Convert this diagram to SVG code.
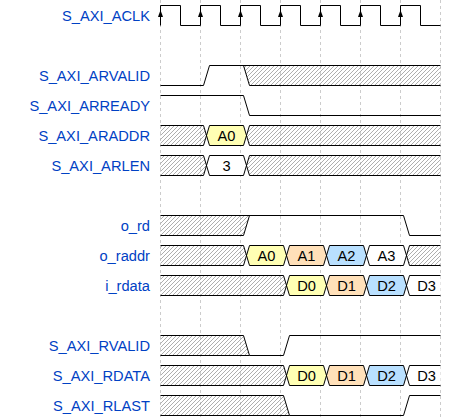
<svg xmlns="http://www.w3.org/2000/svg" width="460" height="420" viewBox="0 0 460 420">
<defs>
<pattern id="hatch" patternUnits="userSpaceOnUse" width="4" height="4">
<path d="M-1,1 L1,-1 M0,4 L4,0 M3,5 L5,3" stroke="#777" stroke-width="0.6"/>
</pattern>
<path id="arw" d="M0,10 L2.5,17 L-2.5,17 Z" fill="#000"/>
</defs>
<style>
.lbl{font-family:"Liberation Sans",Arial,sans-serif;font-size:14.67px;fill:#0041c4;text-anchor:end}
.dat{font-family:"Liberation Sans",Arial,sans-serif;font-size:14.67px;fill:#000;text-anchor:middle}
.w{fill:none;stroke:#000;stroke-width:1}
.x{fill:url(#hatch);stroke:none}
.s2{fill:#fff;stroke:none}
.s3{fill:#ffffb4;stroke:none}
.s4{fill:#ffe0b9;stroke:none}
.s5{fill:#b9e0ff;stroke:none}
.grid{stroke:#ccc;stroke-width:1;stroke-dasharray:3,3}
</style>
<rect width="460" height="420" fill="#fff"/>
<g id="grid">
<line class="grid" x1="160.5" y1="0" x2="160.5" y2="420"/>
<line class="grid" x1="200.5" y1="0" x2="200.5" y2="420"/>
<line class="grid" x1="240.5" y1="0" x2="240.5" y2="420"/>
<line class="grid" x1="280.5" y1="0" x2="280.5" y2="420"/>
<line class="grid" x1="320.5" y1="0" x2="320.5" y2="420"/>
<line class="grid" x1="360.5" y1="0" x2="360.5" y2="420"/>
<line class="grid" x1="400.5" y1="0" x2="400.5" y2="420"/>
<line class="grid" x1="440.5" y1="0" x2="440.5" y2="420"/>
</g>
<g id="S_AXI_ACLK">
<text class="lbl" x="150" y="21">S_AXI_ACLK</text>
<path class="w" d="M160.5,25.5 V5.5 H180.5 V25.5 H200.5 V5.5 H220.5 V25.5 H240.5 V5.5 H260.5 V25.5 H280.5 V5.5 H300.5 V25.5 H320.5 V5.5 H340.5 V25.5 H360.5 V5.5 H380.5 V25.5 H400.5 V5.5 H420.5 V25.5 H440.5"/>
<use href="#arw" x="160.5"/><use href="#arw" x="200.5"/><use href="#arw" x="240.5"/><use href="#arw" x="280.5"/><use href="#arw" x="320.5"/><use href="#arw" x="360.5"/><use href="#arw" x="400.5"/>
</g>
<g id="S_AXI_ARVALID">
<text class="lbl" x="150" y="81">S_AXI_ARVALID</text>
<polygon class="x" points="243.5,65.5 440.5,65.5 440.5,85.5 249.5,85.5"/>
<path class="w" d="M160.5,85.5 H203.5 L209.5,65.5 H440.5 M243.5,65.5 L249.5,85.5 H440.5"/>
</g>
<g id="S_AXI_ARREADY">
<text class="lbl" x="150" y="111">S_AXI_ARREADY</text>
<path class="w" d="M160.5,95.5 H243.5 L249.5,115.5 H440.5"/>
</g>
<g id="S_AXI_ARADDR">
<text class="lbl" x="150" y="141">S_AXI_ARADDR</text>
<polygon class="x" points="160.5,125.5 203.5,125.5 206.5,135.5 203.5,145.5 160.5,145.5"/>
<polygon class="s3" points="206.5,135.5 209.5,125.5 243.5,125.5 246.5,135.5 243.5,145.5 209.5,145.5"/>
<polygon class="x" points="246.5,135.5 249.5,125.5 440.5,125.5 440.5,145.5 249.5,145.5"/>
<path class="w" d="M160.5,125.5 H203.5 L209.5,145.5 H243.5 L249.5,125.5 H440.5 M160.5,145.5 H203.5 L209.5,125.5 H243.5 L249.5,145.5 H440.5"/>
<text class="dat" x="226.5" y="141">A0</text>
</g>
<g id="S_AXI_ARLEN">
<text class="lbl" x="150" y="171">S_AXI_ARLEN</text>
<polygon class="x" points="160.5,155.5 203.5,155.5 206.5,165.5 203.5,175.5 160.5,175.5"/>
<polygon class="s2" points="206.5,165.5 209.5,155.5 243.5,155.5 246.5,165.5 243.5,175.5 209.5,175.5"/>
<polygon class="x" points="246.5,165.5 249.5,155.5 440.5,155.5 440.5,175.5 249.5,175.5"/>
<path class="w" d="M160.5,155.5 H203.5 L209.5,175.5 H243.5 L249.5,155.5 H440.5 M160.5,175.5 H203.5 L209.5,155.5 H243.5 L249.5,175.5 H440.5"/>
<text class="dat" x="226.5" y="171">3</text>
</g>
<g id="o_rd">
<text class="lbl" x="150" y="231">o_rd</text>
<polygon class="x" points="160.5,215.5 249.5,215.5 243.5,235.5 160.5,235.5"/>
<path class="w" d="M160.5,215.5 H403.5 L409.5,235.5 H440.5 M160.5,235.5 H243.5 L249.5,215.5"/>
</g>
<g id="o_raddr">
<text class="lbl" x="150" y="261">o_raddr</text>
<polygon class="x" points="160.5,245.5 243.5,245.5 246.5,255.5 243.5,265.5 160.5,265.5"/>
<polygon class="s3" points="246.5,255.5 249.5,245.5 283.5,245.5 286.5,255.5 283.5,265.5 249.5,265.5"/>
<polygon class="s4" points="286.5,255.5 289.5,245.5 323.5,245.5 326.5,255.5 323.5,265.5 289.5,265.5"/>
<polygon class="s5" points="326.5,255.5 329.5,245.5 363.5,245.5 366.5,255.5 363.5,265.5 329.5,265.5"/>
<polygon class="s2" points="366.5,255.5 369.5,245.5 403.5,245.5 406.5,255.5 403.5,265.5 369.5,265.5"/>
<polygon class="x" points="406.5,255.5 409.5,245.5 440.5,245.5 440.5,265.5 409.5,265.5"/>
<path class="w" d="M160.5,245.5 H243.5 L249.5,265.5 H283.5 L289.5,245.5 H323.5 L329.5,265.5 H363.5 L369.5,245.5 H403.5 L409.5,265.5 H440.5 M160.5,265.5 H243.5 L249.5,245.5 H283.5 L289.5,265.5 H323.5 L329.5,245.5 H363.5 L369.5,265.5 H403.5 L409.5,245.5 H440.5"/>
<text class="dat" x="266.5" y="261">A0</text>
<text class="dat" x="306.5" y="261">A1</text>
<text class="dat" x="346.5" y="261">A2</text>
<text class="dat" x="386.5" y="261">A3</text>
</g>
<g id="i_rdata">
<text class="lbl" x="150" y="291">i_rdata</text>
<polygon class="x" points="160.5,275.5 283.5,275.5 286.5,285.5 283.5,295.5 160.5,295.5"/>
<polygon class="s3" points="286.5,285.5 289.5,275.5 323.5,275.5 326.5,285.5 323.5,295.5 289.5,295.5"/>
<polygon class="s4" points="326.5,285.5 329.5,275.5 363.5,275.5 366.5,285.5 363.5,295.5 329.5,295.5"/>
<polygon class="s5" points="366.5,285.5 369.5,275.5 403.5,275.5 406.5,285.5 403.5,295.5 369.5,295.5"/>
<polygon class="s2" points="406.5,285.5 409.5,275.5 440.5,275.5 440.5,295.5 409.5,295.5"/>
<path class="w" d="M160.5,275.5 H283.5 L289.5,295.5 H323.5 L329.5,275.5 H363.5 L369.5,295.5 H403.5 L409.5,275.5 H440.5 M160.5,295.5 H283.5 L289.5,275.5 H323.5 L329.5,295.5 H363.5 L369.5,275.5 H403.5 L409.5,295.5 H440.5"/>
<text class="dat" x="306.5" y="291">D0</text>
<text class="dat" x="346.5" y="291">D1</text>
<text class="dat" x="386.5" y="291">D2</text>
<text class="dat" x="426.5" y="291">D3</text>
</g>
<g id="S_AXI_RVALID">
<text class="lbl" x="150" y="351">S_AXI_RVALID</text>
<polygon class="x" points="160.5,335.5 243.5,335.5 249.5,355.5 160.5,355.5"/>
<path class="w" d="M160.5,335.5 H243.5 L249.5,355.5 H283.5 L289.5,335.5 H440.5 M160.5,355.5 H249.5"/>
</g>
<g id="S_AXI_RDATA">
<text class="lbl" x="150" y="381">S_AXI_RDATA</text>
<polygon class="x" points="160.5,365.5 283.5,365.5 286.5,375.5 283.5,385.5 160.5,385.5"/>
<polygon class="s3" points="286.5,375.5 289.5,365.5 323.5,365.5 326.5,375.5 323.5,385.5 289.5,385.5"/>
<polygon class="s4" points="326.5,375.5 329.5,365.5 363.5,365.5 366.5,375.5 363.5,385.5 329.5,385.5"/>
<polygon class="s5" points="366.5,375.5 369.5,365.5 403.5,365.5 406.5,375.5 403.5,385.5 369.5,385.5"/>
<polygon class="s2" points="406.5,375.5 409.5,365.5 440.5,365.5 440.5,385.5 409.5,385.5"/>
<path class="w" d="M160.5,365.5 H283.5 L289.5,385.5 H323.5 L329.5,365.5 H363.5 L369.5,385.5 H403.5 L409.5,365.5 H440.5 M160.5,385.5 H283.5 L289.5,365.5 H323.5 L329.5,385.5 H363.5 L369.5,365.5 H403.5 L409.5,385.5 H440.5"/>
<text class="dat" x="306.5" y="381">D0</text>
<text class="dat" x="346.5" y="381">D1</text>
<text class="dat" x="386.5" y="381">D2</text>
<text class="dat" x="426.5" y="381">D3</text>
</g>
<g id="S_AXI_RLAST">
<text class="lbl" x="150" y="411">S_AXI_RLAST</text>
<polygon class="x" points="160.5,395.5 283.5,395.5 289.5,415.5 160.5,415.5"/>
<path class="w" d="M160.5,395.5 H283.5 L289.5,415.5 H403.5 L409.5,395.5 H440.5 M160.5,415.5 H289.5"/>
</g>
</svg>
